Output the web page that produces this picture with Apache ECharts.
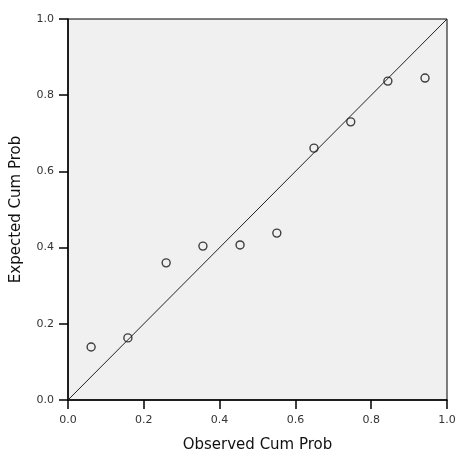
<!DOCTYPE html>
<html><head><meta charset="utf-8">
<script src="https://cdn.jsdelivr.net/npm/echarts@6/dist/echarts.min.js"></script>
<style>html,body{margin:0;padding:0;background:#fff}#c{width:459px;height:458px}</style>
</head><body><div id="c"></div>
<script>
var observed = [0.061, 0.158, 0.259, 0.356, 0.454, 0.551, 0.649, 0.746, 0.844, 0.942];
var expected = [0.139, 0.163, 0.360, 0.404, 0.407, 0.438, 0.661, 0.730, 0.837, 0.845];
var refLine = [[0, 0], [1, 1]];
var xTitle = 'Observed Cum Prob';
var yTitle = 'Expected Cum Prob';

var chart = echarts.init(document.getElementById('c'));
var font = 'DejaVu Sans, Verdana, sans-serif';
function fmt(v){ return v.toFixed(1); }
chart.setOption({
  animation: false,
  grid: {left: 68, right: 12, top: 19, bottom: 58, show: true, backgroundColor: '#f0f0f0', borderColor: '#000', borderWidth: 1},
  xAxis: {
    type: 'value', min: 0, max: 1, interval: 0.2,
    name: xTitle, nameLocation: 'middle', nameGap: 38,
    nameTextStyle: {fontFamily: font, fontSize: 15, color: '#111'},
    axisLine: {show: true, lineStyle: {color: '#000', width: 1.5}},
    axisTick: {show: true, length: 9, lineStyle: {color: '#000', width: 1.5}},
    axisLabel: {fontFamily: font, fontSize: 11, color: '#333', margin: 15, formatter: fmt},
    splitLine: {show: false}
  },
  yAxis: {
    type: 'value', min: 0, max: 1, interval: 0.2,
    name: yTitle, nameLocation: 'middle', nameGap: 44,
    nameTextStyle: {fontFamily: font, fontSize: 15, color: '#111'},
    axisLine: {show: true, lineStyle: {color: '#000', width: 1.5}},
    axisTick: {show: true, length: 9, lineStyle: {color: '#000', width: 1.5}},
    axisLabel: {fontFamily: font, fontSize: 11, color: '#333', margin: 14, formatter: fmt},
    splitLine: {show: false}
  },
  series: [
    {type: 'line', data: refLine, symbol: 'none', lineStyle: {color: '#222', width: 1}, z: 1, silent: true},
    {type: 'scatter', data: observed.map(function(x, i){return [x, expected[i]];}),
     symbol: 'circle', symbolSize: 8,
     itemStyle: {color: 'rgba(240,240,240,0)', borderColor: '#111', borderWidth: 1.4}, z: 2}
  ]
});
</script></body></html>
